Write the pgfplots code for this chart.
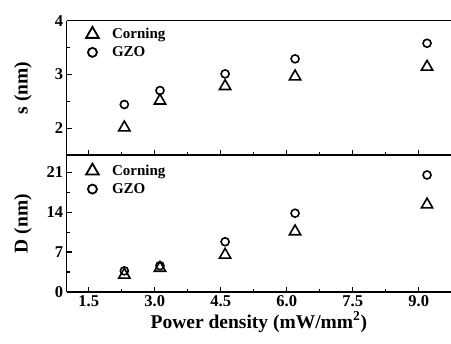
\documentclass[border=0pt]{standalone}
\usepackage{pgfplots}
\pgfplotsset{compat=1.18}
\usepackage{fontspec}
\setmainfont{Liberation Serif}
\begin{document}
\begin{tikzpicture}
\pgfplotsset{common/.style={
  scale only axis, width=384.3pt, xmin=1, xmax=9.734,
  axis y line*=left,
  axis line style={line width=1.2pt},
  every tick/.style={line width=1.1pt, black},
  tick align=inside, xtick pos=bottom, ytick pos=left,
  xtick={1.5,3.0,4.5,6.0,7.5,9.0},
  minor xtick={2.25,3.75,5.25,6.75,8.25},
  major tick length=5pt, minor tick length=3pt,
  /pgf/number format/assume math mode=true,
  tick label style={font=\fontsize{16.5}{18}\selectfont\bfseries},
  label style={font=\fontsize{19.5}{22}\selectfont\bfseries},
  ylabel style={at={(axis description cs:-0.114,0.5)}, anchor=center},
  legend style={draw=none, fill=none, anchor=north west,
    font=\fontsize{15}{17}\selectfont\bfseries, row sep=2.5pt},
  legend cell align=left,
  legend image code/.code={\path[draw=none] (0cm,0cm) -- (1.25cm,0cm); \draw[##1] plot coordinates {(0.63cm,0cm)};},
  tri/.style={only marks, mark=triangle, mark size=6.5pt, mark options={line width=1.6pt, black}},
  cir/.style={only marks, mark=o, mark size=4pt, mark options={line width=1.6pt, black}},
  ltri/.style={only marks, mark=triangle, mark size=7.3pt, mark options={line width=1.8pt, black}},
  lcir/.style={only marks, mark=o, mark size=4.5pt, mark options={line width=1.8pt, black}},
}}
% bottom axis
\begin{axis}[common, at={(66.7pt,52pt)}, anchor=south west, height=137pt,
  ymin=0, ymax=24, ytick={0,7,14,21}, minor ytick={3.5,10.5,17.5},
  legend style={at={(axis description cs:0.012,0.958)}},
  xticklabel style={/pgf/number format/.cd, fixed, fixed zerofill, precision=1},
  ylabel={D (nm)}, xlabel={Power density (mW/mm$^{\mathbf{2}}$)},
  xlabel style={yshift=2pt}]
\addlegendimage{ltri}
\addlegendentry{Corning}
\addlegendimage{lcir}
\addlegendentry{GZO}
\addplot[tri, forget plot] coordinates {(2.31,3.0) (3.12,4.2) (4.6,6.5) (6.19,10.6) (9.19,15.3)};
\addplot[cir, forget plot] coordinates {(2.31,3.7) (3.12,4.6) (4.6,8.8) (6.19,13.8) (9.19,20.5)};
\end{axis}
% top axis
\begin{axis}[common, at={(66.7pt,189pt)}, anchor=south west, height=134.3pt,
  ymin=1.5, ymax=4, ytick={2,3,4}, minor ytick={1.5,2.5,3.5},
  legend style={at={(axis description cs:0.012,0.975)}},
  xticklabels={}, ylabel={s (nm)}]
\addlegendimage{ltri}
\addlegendentry{Corning}
\addlegendimage{lcir}
\addlegendentry{GZO}
\addplot[tri, forget plot] coordinates {(2.31,2.01) (3.12,2.51) (4.6,2.78) (6.19,2.96) (9.19,3.14)};
\addplot[cir, forget plot] coordinates {(2.31,2.44) (3.12,2.70) (4.6,3.01) (6.19,3.29) (9.19,3.58)};
\end{axis}
\pgfresetboundingbox
\path[use as bounding box] (0pt,0pt) rectangle (451pt,344pt);
\end{tikzpicture}
\end{document}
